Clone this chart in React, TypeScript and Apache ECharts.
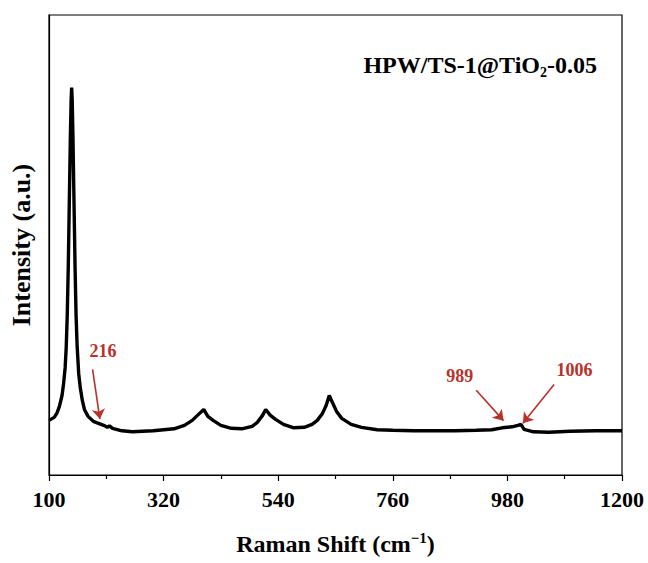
import React, { useEffect, useRef } from "react";
import * as echarts from "echarts";

// Raman shift (cm^-1) and intensity (a.u.)
const shift = [
  100, 110, 115, 120, 125, 128, 131, 133, 135, 137, 139, 141, 142.5, 143.5, 144.5, 146, 148, 150, 152, 154, 157, 160,
  164, 168, 175, 185, 195, 205, 212, 216, 222, 240, 260, 280, 300, 320, 340, 360, 375, 385, 397, 405, 415, 430, 450,
  470, 490, 500, 510, 516, 525, 535, 550, 570, 590, 605, 615, 625, 632, 638, 645, 652, 662, 680, 700, 730, 760, 800,
  840, 880, 920, 950, 970, 989, 1000, 1006, 1012, 1030, 1060, 1100, 1150, 1200,
];
const intensity = [
  55, 58, 62, 69, 80, 92, 108, 128, 160, 210, 275, 340, 378, 390, 378, 340, 275, 210, 160, 130, 102, 88,
  75, 66, 59, 54, 52, 50, 48, 49.5, 47, 44.5, 43.5, 44, 44.5, 45.5, 46.5, 50, 55, 60, 66, 59, 55, 50, 47,
  46.5, 49, 53, 60, 66, 60, 56, 51, 47.5, 48, 51, 55, 62, 70, 80, 72, 64, 57, 51, 48, 45.5, 45, 44.5,
  44.5, 44.5, 45, 45.5, 47.5, 48.5, 50, 51, 46, 43.5, 43, 44, 44.5, 44.5,
];

const xTicks = [100, 320, 540, 760, 980, 1200];

// annotation labels and arrows (data coordinates)
const annLabels = ["216", "989", "1006"];
const annLabelPos = [
  [204.8, 124],
  [889.6, 99],
  [1110, 105],
];
const arrowStart = [
  [183.7, 106.3],
  [920.2, 85.3],
  [1069.7, 91],
];
const arrowEnd = [
  [197.7, 56.3],
  [972.6, 54.7],
  [1009.7, 52],
];

const FONT = '"Liberation Serif", "Times New Roman", serif';
const RED = "#b8322a";

export default function App() {
  const ref = useRef<HTMLDivElement>(null);
  useEffect(() => {
    if (!ref.current) return;
    const chart = echarts.init(ref.current, undefined, { renderer: "svg" });
    const lineData = shift.map((s, i) => [s, intensity[i]]);
    chart.setOption({
      animation: false,
      backgroundColor: "#fff",
      textStyle: { fontFamily: FONT },
      title: {
        text: "HPW/TS-1@TiO{sub|2}-0.05",
        right: 46,
        top: 46,
        textStyle: {
          fontFamily: FONT,
          fontWeight: "bold",
          fontSize: 24,
          color: "#000",
          lineHeight: 28,
          rich: {
            sub: { fontFamily: FONT, fontWeight: "bold", fontSize: 14, color: "#000", verticalAlign: "bottom", lineHeight: 15 },
          },
        },
      },
      grid: {
        left: 48,
        right: 26,
        top: 15,
        bottom: 85,
        show: true,
        borderColor: "#000",
        borderWidth: 1.2,
      },
      xAxis: {
        type: "value",
        min: 100,
        max: 1200,
        interval: 220,
        name: "Raman Shift (cm{sup|−1})",
        nameLocation: "middle",
        nameGap: 55,
        nameTextStyle: {
          fontFamily: FONT,
          fontWeight: "bold",
          fontSize: 24,
          color: "#000",
          lineHeight: 28,
          rich: {
            sup: { fontFamily: FONT, fontWeight: "bold", fontSize: 15, color: "#000", verticalAlign: "top", lineHeight: 16 },
          },
        },
        axisLine: { show: true, lineStyle: { color: "#000", width: 1.2 } },
        axisTick: { show: true, inside: false, length: 6, lineStyle: { color: "#000", width: 1.2 } },
        minorTick: { show: true, splitNumber: 2, length: 4, lineStyle: { color: "#000", width: 1.2 } },
        splitLine: { show: false },
        axisLabel: {
          show: true,
          margin: 13,
          fontFamily: FONT,
          fontWeight: "bold",
          fontSize: 22,
          color: "#000",
          formatter: (v: number) => (xTicks.includes(v) ? String(v) : ""),
        },
      },
      yAxis: {
        type: "value",
        min: 0,
        max: 463,
        name: "Intensity (a.u.)",
        nameLocation: "middle",
        nameGap: 15,
        nameTextStyle: { fontFamily: FONT, fontWeight: "bold", fontSize: 26, color: "#000" },
        axisLine: { show: true, lineStyle: { color: "#000", width: 1.2 } },
        axisTick: { show: false },
        axisLabel: { show: false },
        splitLine: { show: false },
      },
      series: [
        {
          type: "line",
          data: lineData,
          showSymbol: false,
          symbol: "none",
          lineStyle: { color: "#000", width: 3.4 },
          z: 3,
          markLine: {
            silent: true,
            symbol: ["none", "arrow"],
            symbolSize: 10,
            label: { show: false },
            lineStyle: { color: RED, width: 1.6, type: "solid", opacity: 1 },
            itemStyle: { color: RED },
            emphasis: { disabled: true },
            data: arrowStart.map((s, i) => [{ coord: s }, { coord: arrowEnd[i] }]),
          },
        },
        {
          type: "scatter",
          data: annLabelPos.map((p, i) => [p[0], p[1], annLabels[i]]),
          symbolSize: 1,
          itemStyle: { color: "rgba(0,0,0,0)", opacity: 1 },
          silent: true,
          label: {
            show: true,
            position: [0, 0],
            align: "center",
            verticalAlign: "middle",
            formatter: (p: any) => p.data[2],
            fontFamily: FONT,
            fontWeight: "bold",
            fontSize: 18,
            color: RED,
            opacity: 1,
            textBorderWidth: 0,
          },
          z: 4,
        },
      ],
    });
    return () => chart.dispose();
  }, []);
  return <div ref={ref} style={{ position: "fixed", left: 0, top: 0, width: 648, height: 563 }} />;
}
